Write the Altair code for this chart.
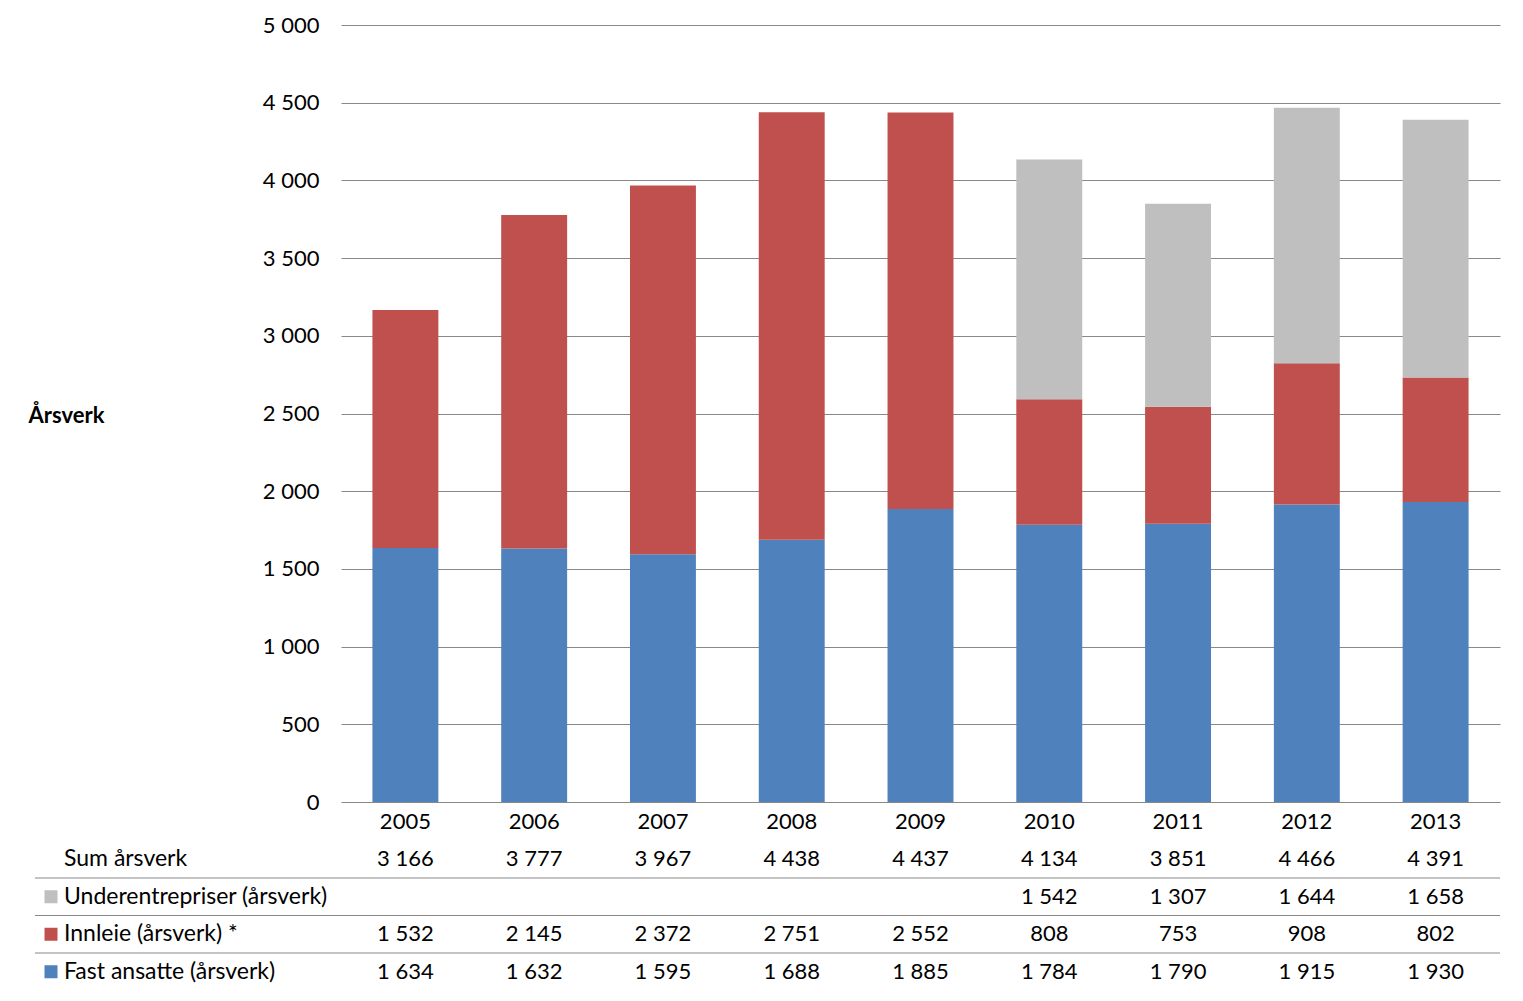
import altair as alt
import pandas as pd

years = ["2005", "2006", "2007", "2008", "2009", "2010", "2011", "2012", "2013"]
fast = [1634, 1632, 1595, 1688, 1885, 1784, 1790, 1915, 1930]
innleie = [1532, 2145, 2372, 2751, 2552, 808, 753, 908, 802]
under = [None, None, None, None, None, 1542, 1307, 1644, 1658]
sums = [3166, 3777, 3967, 4438, 4437, 4134, 3851, 4466, 4391]

series_names = ["Underentrepriser (årsverk)", "Innleie (årsverk) *", "Fast ansatte (årsverk)"]
series_colors = ["#BFBFBF", "#C0504D", "#4F81BD"]
sum_name = "Sum årsverk"
year_row = "År"
row_names = [year_row, sum_name] + series_names
y_ticks = [0, 500, 1000, 1500, 2000, 2500, 3000, 3500, 4000, 4500, 5000]

FONT = "Lato"
FS = 22
W, H = 1159, 777


def fmt(v):
    return f"{v:,}".replace(",", " ")


# bar data
bar_rows = []
for i, y in enumerate(years):
    for order, (name, vals) in enumerate(zip(series_names[::-1], [fast, innleie, under])):
        v = vals[i]
        if v is not None:
            bar_rows.append({"year": y, "series": name, "value": v, "order": order})
bar_df = pd.DataFrame(bar_rows)

# table data
tab_rows = []
for i, y in enumerate(years):
    tab_rows.append({"year": y, "row": year_row, "text": y})
    tab_rows.append({"year": y, "row": sum_name, "text": fmt(sums[i])})
    for name, vals in zip(series_names, [under, innleie, fast]):
        if vals[i] is not None:
            tab_rows.append({"year": y, "row": name, "text": fmt(vals[i])})
tab_df = pd.DataFrame(tab_rows)

label_df = pd.DataFrame({"row": [sum_name] + series_names})
swatch_df = pd.DataFrame({"row": series_names})
sep_df = pd.DataFrame({"row": series_names})

xscale = alt.Scale(domain=years, paddingInner=0.488, paddingOuter=0.244)
color_scale = alt.Scale(domain=series_names, range=series_colors)

bars = alt.Chart(bar_df).mark_bar().encode(
    x=alt.X("year:N", sort=years, axis=None, scale=xscale),
    y=alt.Y(
        "value:Q",
        stack="zero",
        scale=alt.Scale(domain=[0, 5000], nice=False),
        axis=alt.Axis(
            values=y_ticks,
            title="Årsverk",
            titleAngle=0,
            titleX=-313,
            titleY=390,
            titleAlign="left",
            titleBaseline="middle",
            titleFontWeight="bold",
            titleFontSize=FS,
            titleFont=FONT,
            titleColor="#000000",
            labelFontSize=FS,
            labelFont=FONT,
            labelColor="#000000",
            labelPadding=22,
            ticks=False,
            domain=False,
            grid=True,
            gridColor="#888888",
            gridWidth=1,
            labelExpr="replace(format(datum.value, ','), ',', ' ')",
        ),
    ),
    color=alt.Color("series:N", scale=color_scale, legend=None),
    order=alt.Order("order:Q"),
).properties(width=W, height=H)

yscale = alt.Scale(type="band", domain=row_names, range=[-13, 174.5], paddingInner=0, paddingOuter=0)

vals_text = alt.Chart(tab_df).mark_text(font=FONT, fontSize=FS, color="#000000").encode(
    x=alt.X("year:N", sort=years, axis=None, scale=xscale),
    y=alt.Y("row:N", axis=None, scale=yscale),
    text="text:N",
)

row_labels = alt.Chart(label_df).mark_text(
    font=FONT, fontSize=FS + 1, color="#000000", align="left"
).encode(
    x=alt.value(-277),
    y=alt.Y("row:N", axis=None, scale=yscale),
    text="row:N",
)

swatches = alt.Chart(swatch_df).mark_square(size=169, opacity=1).encode(
    x=alt.value(-290),
    y=alt.Y("row:N", axis=None, scale=yscale),
    color=alt.Color("row:N", scale=color_scale, legend=None),
)

seps = alt.Chart(sep_df).mark_rule(color="#888888", strokeWidth=1).encode(
    y=alt.Y("row:N", axis=None, scale=yscale, bandPosition=0),
    x=alt.value(-306),
    x2=alt.value(W),
)

table = alt.layer(seps, vals_text, row_labels, swatches).properties(width=W, height=174.5)

chart = alt.vconcat(bars, table, spacing=-3).properties(
    padding={"left": 20, "top": 6, "right": 10, "bottom": 5}
).configure_view(stroke=None)

chart.save("out.html", embed_options={"renderer": "svg", "actions": False})
